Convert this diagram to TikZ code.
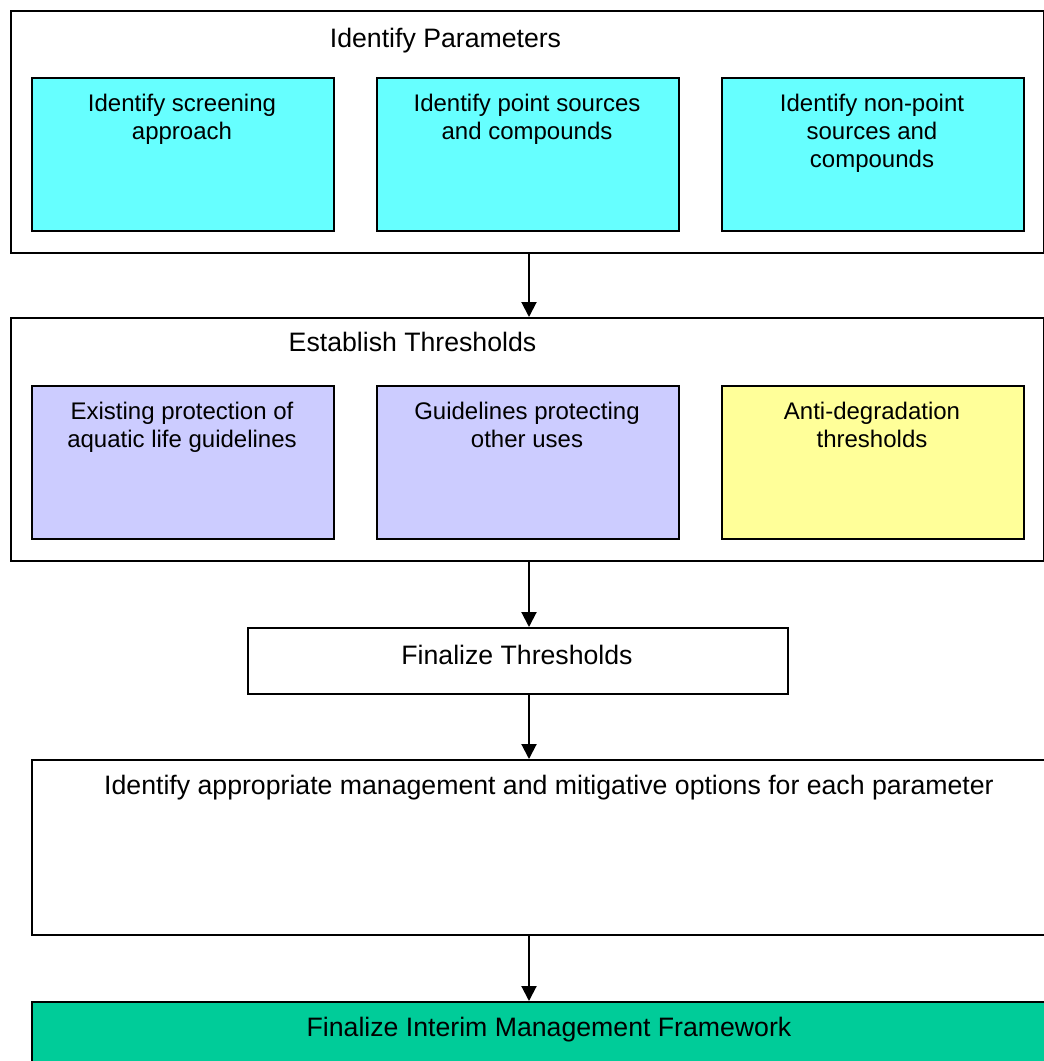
\documentclass[tikz,border=0pt]{standalone}
\usepackage{fontspec}
\setmainfont{Liberation Sans}
\usetikzlibrary{arrows.meta}
\definecolor{cyanbox}{HTML}{66FFFF}
\definecolor{lavbox}{HTML}{CCCCFF}
\definecolor{yelbox}{HTML}{FFFF99}
\definecolor{grnbox}{HTML}{00CC99}
\newcommand\boxfont{\fontsize{24}{28}\selectfont}
\newcommand\ttlfont{\fontsize{26.67}{32}\selectfont}
\newcommand\mlines[1]{\def\arraystretch{1}\begin{tabular}[t]{@{}c@{}}#1\end{tabular}}
\tikzset{
  framebox/.style={draw=black, line width=2pt, fill=white, inner sep=0pt, anchor=north west},
  subbox/.style={draw=black, line width=2pt, inner sep=0pt, anchor=north west,
                 minimum width=302pt, minimum height=153pt},
  lbl/.style={inner sep=0pt, anchor=base, font=\boxfont},
  ttl/.style={inner sep=0pt, anchor=base, font=\ttlfont},
  arr/.style={-{Triangle[width=15pt,length=15pt]}, line width=2pt}
}
\begin{document}
\begin{tikzpicture}[x=1pt,y=-1pt]
\useasboundingbox (0,0) rectangle (1044,1061);
\clip (0,0) rectangle (1044,1061);
\fill[white] (0,0) rectangle (1044,1061);
\coordinate (ax) at (529,0);

% Identify Parameters
\node[framebox, minimum width=1033pt, minimum height=242pt] (P) at (10,10) {};
\node[ttl] (Pt) at (445.5,47) {Identify Parameters};
\node[subbox, fill=cyanbox] (P1) at (31,77) {};
\node[subbox, fill=cyanbox] (P2) at (376,77) {};
\node[subbox, fill=cyanbox] (P3) at (721,77) {};
\node[lbl] (P1t) at (182,111) {\mlines{Identify screening\\approach}};
\node[lbl] (P2t) at (527,111) {\mlines{Identify point sources\\and compounds}};
\node[lbl] (P3t) at (872,111) {\mlines{Identify non-point\\sources and\\compounds}};

% Establish Thresholds
\node[framebox, minimum width=1033pt, minimum height=243pt] (E) at (10,317) {};
\node[ttl] (Et) at (412.5,351) {Establish Thresholds};
\node[subbox, fill=lavbox] (E1) at (31,385) {};
\node[subbox, fill=lavbox] (E2) at (376,385) {};
\node[subbox, fill=yelbox] (E3) at (721,385) {};
\node[lbl] (E1t) at (182,419) {\mlines{Existing protection of\\aquatic life guidelines}};
\node[lbl] (E2t) at (527,419) {\mlines{Guidelines protecting\\other uses}};
\node[lbl] (E3t) at (872,419) {\mlines{Anti-degradation\\thresholds}};

% Finalize Thresholds
\node[framebox, minimum width=540pt, minimum height=66pt] (F) at (247,627) {};
\node[ttl] (Ft) at (517,664) {Finalize Thresholds};

% Management options
\node[framebox, minimum width=1036pt, minimum height=175pt] (M) at (31,759) {};
\node[ttl] (Mt) at (549,794) {Identify appropriate management and mitigative options for each parameter};

% Final framework
\node[framebox, fill=grnbox, minimum width=1036pt, minimum height=69pt] (G) at (31,1001) {};
\node[ttl] (Gt) at (549,1036) {Finalize Interim Management Framework};

% Connectors
\draw[arr] (P.south -| ax) -- (E.north -| ax);
\draw[arr] (E.south -| ax) -- (F.north -| ax);
\draw[arr] (F.south -| ax) -- (M.north -| ax);
\draw[arr] (M.south -| ax) -- (G.north -| ax);
\end{tikzpicture}
\end{document}
